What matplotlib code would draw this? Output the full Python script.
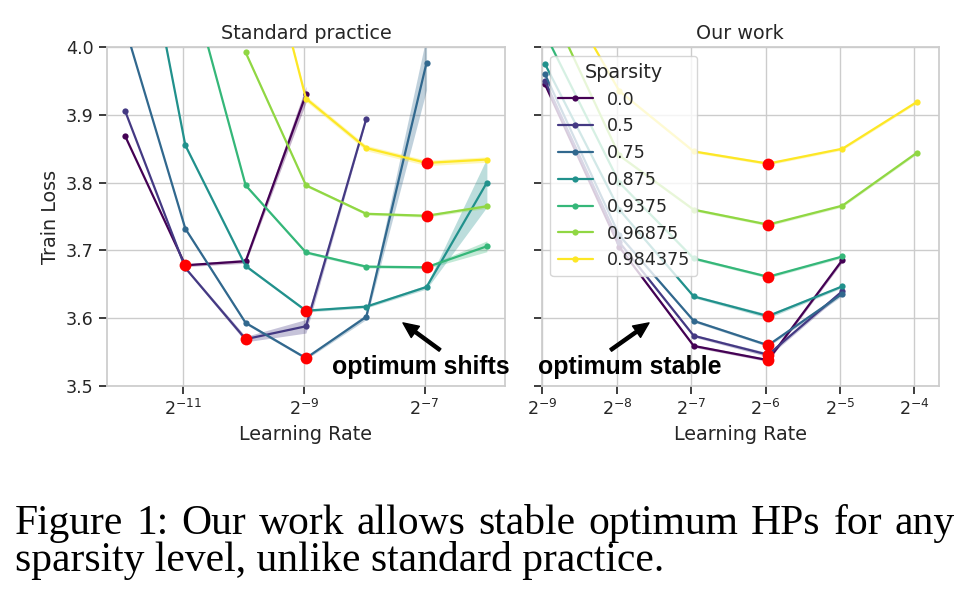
import numpy as np
import matplotlib
matplotlib.use('Agg')
import matplotlib.pyplot as plt
import seaborn as sns

# sparsity levels shown in the legend
sparsity = ['0.0', '0.5', '0.75', '0.875', '0.9375', '0.96875', '0.984375']

# Standard practice panel
std_lr = [0.00025, 0.0005, 0.001, 0.002, 0.004, 0.008, 0.016]
std_loss = [
    [3.869, 3.678, 3.684, 3.930, np.nan, np.nan, np.nan],
    [3.906, 3.674, 3.569, 3.588, 3.894, np.nan, np.nan],
    [4.030, 3.732, 3.593, 3.541, 3.602, 3.977, np.nan],
    [4.315, 3.855, 3.677, 3.611, 3.617, 3.646, 3.800],
    [np.nan, 4.124, 3.796, 3.697, 3.676, 3.675, 3.706],
    [np.nan, np.nan, 3.992, 3.796, 3.754, 3.751, 3.765],
    [np.nan, np.nan, 4.270, 3.924, 3.851, 3.829, 3.834],
]
# half width of the shaded band around each point
std_band = [
    [0.0, 0.002, 0.003, 0.012, 0.0, 0.0, 0.0],
    [0.0, 0.002, 0.004, 0.010, 0.002, 0.0, 0.0],
    [0.0, 0.002, 0.002, 0.002, 0.004, 0.040, 0.0],
    [0.0, 0.002, 0.002, 0.002, 0.002, 0.003, 0.036],
    [0.0, 0.0, 0.002, 0.002, 0.002, 0.002, 0.008],
    [0.0, 0.0, 0.002, 0.002, 0.002, 0.002, 0.003],
    [0.0, 0.0, 0.004, 0.004, 0.004, 0.004, 0.004],
]

# Our work panel
our_lr = [0.002, 0.004, 0.008, 0.016, 0.032, 0.064]
our_loss = [
    [3.945, 3.705, 3.559, 3.538, 3.686, np.nan],
    [3.950, 3.712, 3.574, 3.546, 3.640, np.nan],
    [3.960, 3.722, 3.596, 3.560, 3.636, np.nan],
    [3.975, 3.760, 3.632, 3.603, 3.647, np.nan],
    [4.020, 3.800, 3.688, 3.661, 3.691, np.nan],
    [4.075, 3.840, 3.760, 3.738, 3.766, 3.844],
    [4.127, 3.935, 3.846, 3.828, 3.850, 3.919],
]
our_band = [
    [0.0, 0.002, 0.002, 0.002, 0.003, 0.0],
    [0.0, 0.002, 0.002, 0.003, 0.003, 0.0],
    [0.0, 0.002, 0.002, 0.002, 0.003, 0.0],
    [0.0, 0.002, 0.002, 0.003, 0.002, 0.0],
    [0.0, 0.002, 0.002, 0.002, 0.002, 0.0],
    [0.0, 0.002, 0.002, 0.002, 0.002, 0.002],
    [0.0, 0.002, 0.002, 0.002, 0.002, 0.002],
]

caption = ['Figure 1: Our work allows stable optimum HPs for any',
           'sparsity level, unlike standard practice.']

sns.set_theme(context='notebook', style='whitegrid', font_scale=1.15,
              rc={'xtick.bottom': True, 'ytick.left': True})

colors = plt.cm.viridis(np.linspace(0, 1, len(sparsity)))

W, H = 972, 603
fig = plt.figure(figsize=(W / 100, H / 100), dpi=100)
ax1 = fig.add_axes([0.110, 0.360, 0.4095, 0.562])
ax2 = fig.add_axes([0.5573, 0.360, 0.4088, 0.562])


def draw_panel(ax, lrs, losses, bands):
    lrs = np.array(lrs)
    for i, (loss, band) in enumerate(zip(losses, bands)):
        loss = np.array(loss)
        band = np.array(band)
        ok = ~np.isnan(loss)
        ax.fill_between(lrs[ok], (loss - band)[ok], (loss + band)[ok],
                        color=colors[i], alpha=0.3, linewidth=0, zorder=2 + i * 0.01)
        ax.plot(lrs[ok], loss[ok], '-o', color=colors[i], lw=1.6, ms=4.5,
                mew=0, label=sparsity[i], zorder=3 + i * 0.01)
        k = np.nanargmin(loss)
        ax.plot(lrs[k], loss[k], 'o', color='red', ms=8.5, mew=0, zorder=5)
    ax.set_xscale('log', base=2)
    ax.set_ylim(3.5, 4.0)
    ax.set_yticks([3.5, 3.6, 3.7, 3.8, 3.9, 4.0])
    ax.set_xlabel('Learning Rate')


draw_panel(ax1, std_lr, std_loss, std_band)
ax1.set_xlim(2 ** -12.266, 2 ** -5.666)
ax1.set_xticks([2 ** -11, 2 ** -9, 2 ** -7])
ax1.set_ylabel('Train Loss')
ax1.set_title('Standard practice')

draw_panel(ax2, our_lr, our_loss, our_band)
ax2.set_xlim(2 ** -9.01, 2 ** -3.667)
ax2.set_xticks([2 ** p for p in range(-9, -3)])
ax2.tick_params(labelleft=False)
ax2.set_title('Our work')

handles = [h for h in ax2.get_lines() if not h.get_label().startswith('_')]
ax2.legend(handles=handles, title='Sparsity', loc='upper left')

arrow = dict(facecolor='black', edgecolor='black', width=2.2,
             headwidth=10, headlength=11, shrink=0)
bold = dict(fontsize=17.9, fontweight='bold', family='Liberation Sans',
            color='black', ha='center', va='baseline', zorder=6)

ax1.annotate('', xy=(2 ** -7.357, 3.593), xytext=(2 ** -6.743, 3.553),
             arrowprops=arrow)
ax1.text(2 ** -7.058, 3.5177, 'optimum shifts', **bold)

ax2.annotate('', xy=(2 ** -7.567, 3.593), xytext=(2 ** -8.082, 3.553),
             arrowprops=arrow)
ax2.text(2 ** -7.82, 3.5177, 'optimum stable', **bold)

# caption, first line justified to the full width like the paper
cap = dict(fontsize=29.9, family='Liberation Serif', color='black', va='baseline')
renderer = fig.canvas.get_renderer()
words = caption[0].split()
texts = [fig.text(0, 0, w, **cap) for w in words]
widths = [t.get_window_extent(renderer).width for t in texts]
left, right = 15, 955
gap = (right - left - sum(widths)) / (len(words) - 1)
x = left
for t, w in zip(texts, widths):
    t.set_position((x / W, 1 - 534 / H))
    x += w + gap
fig.text(left / W, 1 - 571 / H, caption[1], **cap)

fig.savefig('out.png', dpi=100, facecolor='white')
